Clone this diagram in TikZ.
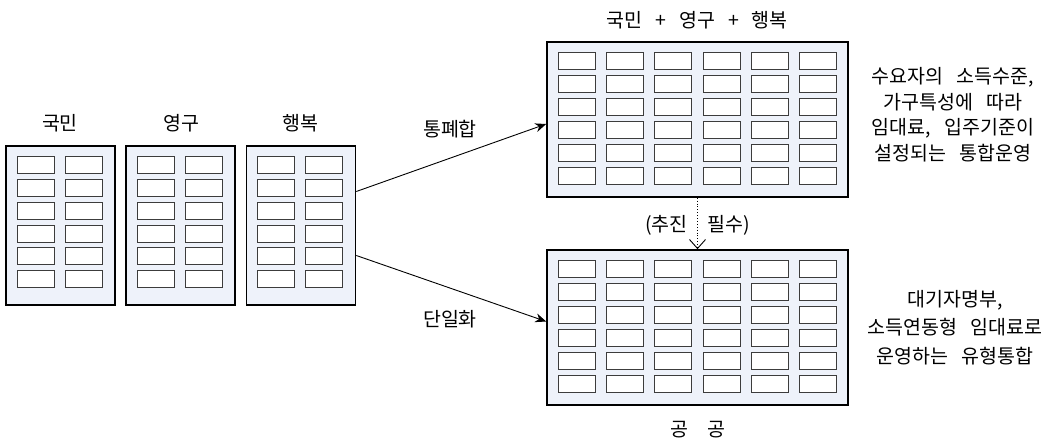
\documentclass[tikz,border=0pt]{standalone}
\usepackage{fontspec}
\setmainfont{Noto Sans CJK KR}[WordSpace=3]
\usetikzlibrary{arrows.meta,calc}
\definecolor{bldgfill}{RGB}{238,242,250}
\definecolor{winedge}{RGB}{60,60,60}
\tikzset{
  bldg/.style={draw=black, line width=1.6pt, fill=bldgfill, inner sep=0pt},
  win/.style={draw=winedge, line width=1pt, fill=white},
  lbl/.style={font=\fontsize{19.5}{22}\selectfont, inner sep=0pt},
  conn/.style={line width=0.9pt, -{Stealth[length=11pt,width=9pt]}},
}
\begin{document}
\begin{tikzpicture}[x=1pt,y=-1pt]
\useasboundingbox (0,0) rectangle (1050,443);
% left buildings
\node[bldg, minimum width=109pt, minimum height=159pt] (b1) at (60.5,225.5) {};
\node[bldg, minimum width=109pt, minimum height=159pt] (b2) at (180.5,225.5) {};
\node[bldg, minimum width=109pt, minimum height=159pt] (b3) at (301,225.5) {};
\foreach \b in {b1,b2,b3}{
  \foreach \c in {0,1}{
    \foreach \r in {0,...,5}{
      \draw[win] ([xshift=12pt+\c*48pt, yshift=-11.5pt-\r*22.8pt]\b.north west) rectangle ++(37,17);
    }
  }
}
% right buildings
\node[bldg, minimum width=301pt, minimum height=155pt] (top) at (697.5,119.5) {};
\node[bldg, minimum width=301pt, minimum height=155pt] (bot) at (697.5,327.5) {};
\foreach \b in {top,bot}{
  \foreach \c in {0,...,5}{
    \foreach \r in {0,...,5}{
      \draw[win] ([xshift=12pt+\c*48.3pt, yshift=-11.3pt-\r*23pt]\b.north west) rectangle ++(37,17);
    }
  }
}
% labels
\node[lbl] (l1) at (60,123) {국민};
\node[lbl] (l2) at (181,123) {영구};
\node[lbl] (l3) at (300,123) {행복};
\node[lbl] (ltop) at (697,20) {국민 + 영구 + 행복};
\node[lbl] (lbot) at (698,430) {공\hspace{1em}공};
% connectors
\draw[conn] ([yshift=34pt]b3.east) -- ([yshift=-4.5pt]top.west);
\draw[conn] ([yshift=-30pt]b3.east) -- ([yshift=6pt]bot.west);
\node[lbl] (t1) at (450,129) {통폐합};
\node[lbl] (t2) at (450,319) {단일화};
\draw[dotted, line width=0.9pt, -{Straight Barb[length=9pt,width=16pt]}] (top.south) -- (bot.north);
\node[lbl, anchor=east] (p1) at (688,225) {(추진};
\node[lbl, anchor=west] (p2) at (707,225) {필수)};
% side notes
\node[lbl, align=center, font=\fontsize{19.5}{25.5}\selectfont] (n1) at (953,114.5) {수요자의 소득수준,\\가구특성에 따라\\임대료, 입주기준이\\설정되는 통합운영};
\node[lbl, align=center, font=\fontsize{19.5}{28.5}\selectfont] (n2) at (955,327.5) {대기자명부,\\소득연동형 임대료로\\운영하는 유형통합};
\end{tikzpicture}
\end{document}
